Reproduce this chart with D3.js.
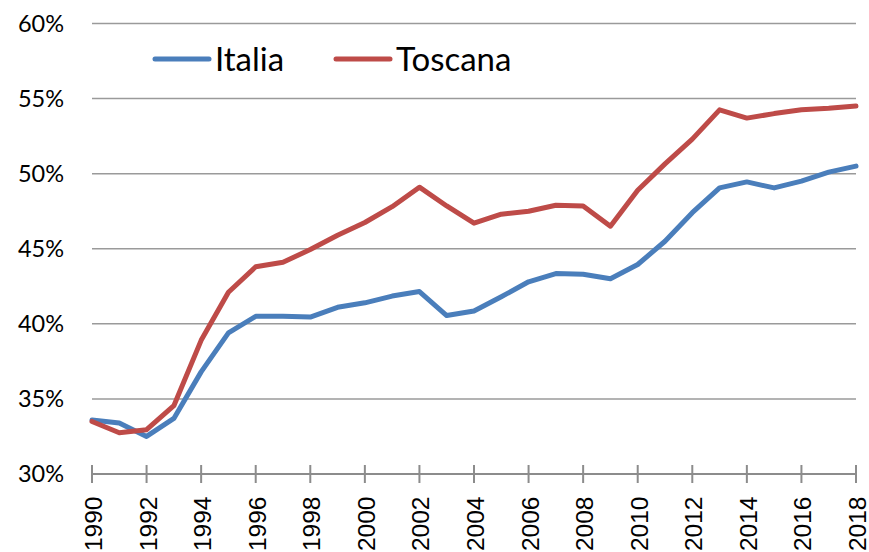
<!DOCTYPE html>
<html lang="it">
<head>
  <meta charset="utf-8">
  <script src="https://d3js.org/d3.v7.min.js"></script>
  <style>
    body { margin: 0; background: #fff; }
    svg { display: block; }
  </style>
</head>
<body>
  <div id="chart"></div>

  <script type="text/javascript">
    "use strict"

    // dati (quota in %)
    var anni = d3.range(1990, 2019);
    var italia = [33.6, 33.4, 32.5, 33.7, 36.8, 39.4, 40.5, 40.5, 40.45, 41.1, 41.4, 41.85, 42.15,
                  40.55, 40.85, 41.8, 42.8, 43.35, 43.3, 43.0, 43.95, 45.5, 47.4, 49.05, 49.45,
                  49.05, 49.5, 50.1, 50.5];
    var toscana = [33.5, 32.75, 32.95, 34.55, 38.9, 42.1, 43.8, 44.1, 44.95, 45.9, 46.75, 47.8, 49.1,
                   47.85, 46.7, 47.3, 47.5, 47.9, 47.85, 46.5, 48.9, 50.65, 52.3, 54.25, 53.7,
                   54.0, 54.25, 54.35, 54.5];
    var serie = [
      {nome: "Italia", valori: italia, colore: "#4A7EBB"},
      {nome: "Toscana", valori: toscana, colore: "#BE4B48"}
    ];
    var tickY = [30, 35, 40, 45, 50, 55, 60];
    var tickX = d3.range(1990, 2019, 2);

    var larguraSVG = 869, alturaSVG = 552;
    var margin = {top: 23.5, right: 13, bottom: 78, left: 92};

    var svg = d3.select('#chart')
      .append('svg')
        .attr('width', larguraSVG)
        .attr('height', alturaSVG);

    var x = d3.scaleLinear()
              .domain([1990, 2018])
              .range([margin.left, larguraSVG - margin.right]);

    var y = d3.scaleLinear()
              .domain([30, 60])
              .range([alturaSVG - margin.bottom, margin.top]);

    // griglia orizzontale
    svg.append('g')
      .selectAll('line')
      .data(tickY.filter(d => d > 30))
      .enter()
      .append('line')
        .attr('x1', x(1990))
        .attr('x2', x(2018))
        .attr('y1', d => y(d))
        .attr('y2', d => y(d))
        .style('stroke', '#9a9a9a')
        .style('stroke-width', 1.5);

    // etichette asse y
    svg.append('g')
      .selectAll('text')
      .data(tickY)
      .enter()
      .append('text')
        .attr('x', 64)
        .attr('y', d => y(d))
        .attr('dy', '0.35em')
        .attr('text-anchor', 'end')
        .style('font-family', 'Lato, "Noto Sans", sans-serif')
        .style('font-size', '23.5px')
        .style('fill', '#000')
        .text(d => d + '%');

    // asse x con tacche incrociate
    var asseX = svg.append('g')
      .attr('transform', 'translate(0,' + y(30) + ')');

    asseX.append('line')
      .attr('x1', x(1990))
      .attr('x2', x(2018))
      .style('stroke', '#8c8c8c')
      .style('stroke-width', 2);

    asseX.selectAll('line.tick')
      .data(tickX)
      .enter()
      .append('line')
        .attr('class', 'tick')
        .attr('x1', d => x(d))
        .attr('x2', d => x(d))
        .attr('y1', -9)
        .attr('y2', 9)
        .style('stroke', '#8c8c8c')
        .style('stroke-width', 2);

    asseX.selectAll('text')
      .data(tickX)
      .enter()
      .append('text')
        .attr('transform', d => 'translate(' + (x(d) + 10) + ',22.5) rotate(-90)')
        .attr('text-anchor', 'end')
        .style('font-family', '"Liberation Sans", Arial, sans-serif')
        .style('font-size', '24.5px')
        .style('fill', '#000')
        .text(d => d);

    // linee
    var linha = d3.line()
      .x((d, i) => x(anni[i]))
      .y(d => y(d));

    svg.append('g')
      .selectAll('path')
      .data(serie)
      .enter()
      .append('path')
        .attr('d', d => linha(d.valori))
        .style('fill', 'none')
        .style('stroke', d => d.colore)
        .style('stroke-width', 5)
        .style('stroke-linejoin', 'round')
        .style('stroke-linecap', 'round');

    // legenda
    var legX = [155, 336];
    var legenda = svg.append('g')
      .selectAll('g')
      .data(serie)
      .enter()
      .append('g')
        .attr('transform', (d, i) => 'translate(' + legX[i] + ',59)');

    legenda.append('line')
      .attr('x1', 0)
      .attr('x2', 54)
      .style('stroke', d => d.colore)
      .style('stroke-width', 5)
      .style('stroke-linecap', 'round');

    legenda.append('text')
      .attr('x', 60)
      .attr('y', 11.5)
      .style('font-family', 'Lato, "Noto Sans", sans-serif')
      .style('font-size', '33px')
      .style('fill', '#000')
      .text(d => d.nome);
  </script>
</body>
</html>
